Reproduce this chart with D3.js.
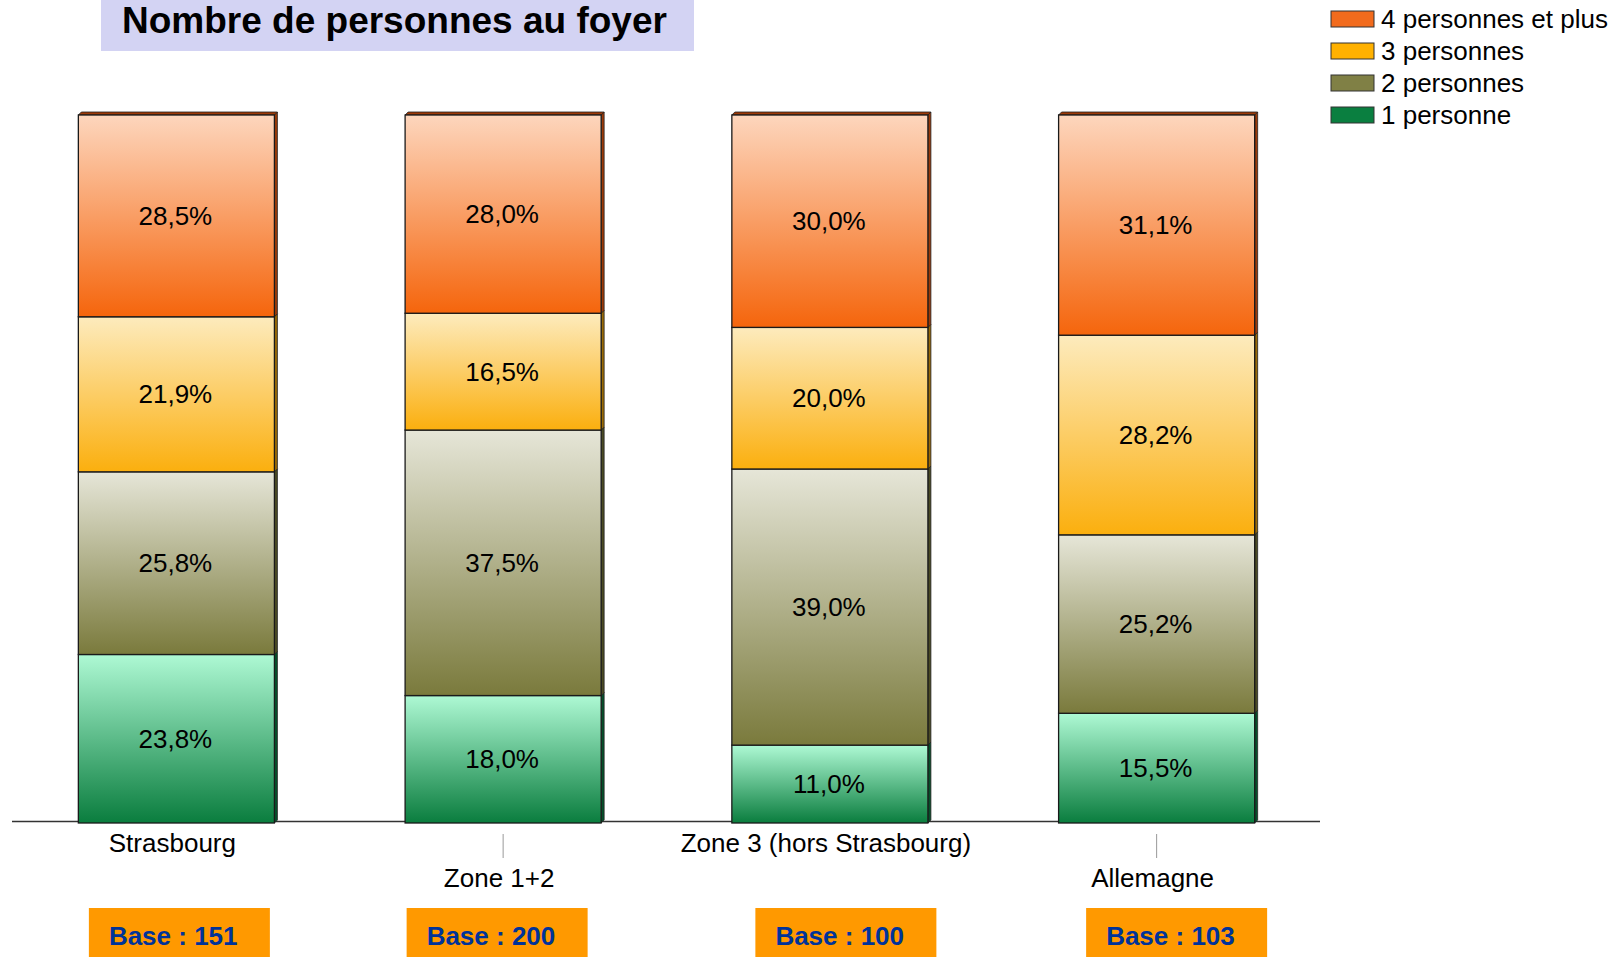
<!DOCTYPE html>
<html>
<head>
<meta charset="utf-8">
<script src="https://cdn.jsdelivr.net/npm/d3@7/dist/d3.min.js"></script>
<style>
  body { margin: 0; background: #fff; }
  svg text { font-family: "Liberation Sans", Arial, sans-serif; }
</style>
</head>
<body>
<div id="chart"></div>
<script>
const categories = ["Strasbourg", "Zone 1+2", "Zone 3 (hors Strasbourg)", "Allemagne"];
const seriesNames = ["1 personne", "2 personnes", "3 personnes", "4 personnes et plus"];
const onePerson = [23.8, 18.0, 11.0, 15.5];
const twoPersons = [25.8, 37.5, 39.0, 25.2];
const threePersons = [21.9, 16.5, 20.0, 28.2];
const fourPlus = [28.5, 28.0, 30.0, 31.1];
const bases = [151, 200, 100, 103];

let width = 1624;
let height = 957;

// colours per series: gradient top, gradient bottom, legend, side face
let palette = {
  "1 personne": { top: "#aef9d4", bottom: "#0a7d3e", solid: "#0a7f40", side: "#05502a" },
  "2 personnes": { top: "#e6e6d8", bottom: "#7a7a3c", solid: "#808045", side: "#4b4b24" },
  "3 personnes": { top: "#fdebbd", bottom: "#fbaf0e", solid: "#ffb100", side: "#9a6a05" },
  "4 personnes et plus": { top: "#fdd6bd", bottom: "#f5650c", solid: "#f26b1d", side: "#9c3a08" }
};

let table = categories.map((c, i) => ({
  category: c,
  "1 personne": onePerson[i],
  "2 personnes": twoPersons[i],
  "3 personnes": threePersons[i],
  "4 personnes et plus": fourPlus[i],
  base: bases[i]
}));

let stacked = d3.stack().keys(seriesNames)(table);

let svg = d3.select("#chart")
  .append("svg")
  .attr("width", width)
  .attr("height", height);

let defs = svg.append("defs");
seriesNames.forEach((s, i) => {
  let g = defs.append("linearGradient")
    .attr("id", "grad" + i)
    .attr("x1", 0).attr("y1", 0).attr("x2", 0).attr("y2", 1);
  g.append("stop").attr("offset", "0%").attr("stop-color", palette[s].top);
  g.append("stop").attr("offset", "100%").attr("stop-color", palette[s].bottom);
});

let x = d3.scaleBand()
  .domain(categories)
  .range([13, 1320])
  .paddingInner(0.4)
  .paddingOuter(0.2);

let y = d3.scaleLinear()
  .domain([0, 100])
  .range([823, 115]);

const depth = 3;

// Title
svg.append("rect")
  .attr("x", 101).attr("y", 0)
  .attr("width", 593).attr("height", 51)
  .attr("fill", "#d3d3f3");
svg.append("text")
  .attr("x", 122).attr("y", 33)
  .attr("font-size", 37)
  .attr("font-weight", "bold")
  .attr("fill", "#000")
  .text("Nombre de personnes au foyer");

// axis line
svg.append("line")
  .attr("x1", 12).attr("x2", 1320)
  .attr("y1", 821.5).attr("y2", 821.5)
  .attr("stroke", "#333").attr("stroke-width", 1.5);

// bars
let layer = svg.selectAll("g.layer")
  .data(stacked)
  .enter().append("g")
  .attr("class", "layer");

let seg = layer.selectAll("g.seg")
  .data(d => d.map(p => ({ key: d.key, idx: d.index, p: p })))
  .enter().append("g")
  .attr("class", "seg");

// side face
seg.append("polygon")
  .attr("points", d => {
    let x1 = x(d.p.data.category) + x.bandwidth();
    let yt = y(d.p[1]), yb = y(d.p[0]);
    return [[x1, yt], [x1 + depth, yt - depth], [x1 + depth, yb - depth], [x1, yb]].join(" ");
  })
  .attr("fill", d => palette[d.key].side)
  .attr("stroke", "#222")
  .attr("stroke-width", 0.8);

// top face for the top segment
seg.filter(d => d.idx === seriesNames.length - 1)
  .append("polygon")
  .attr("points", d => {
    let x0 = x(d.p.data.category), x1 = x0 + x.bandwidth();
    let yt = y(d.p[1]);
    return [[x0, yt], [x0 + depth, yt - depth], [x1 + depth, yt - depth], [x1, yt]].join(" ");
  })
  .attr("fill", d => palette[d.key].side)
  .attr("stroke", "#222")
  .attr("stroke-width", 0.8);

seg.append("rect")
  .attr("x", d => x(d.p.data.category))
  .attr("y", d => y(d.p[1]))
  .attr("width", x.bandwidth())
  .attr("height", d => y(d.p[0]) - y(d.p[1]))
  .attr("fill", d => "url(#grad" + d.idx + ")")
  .attr("stroke", "#1a1a1a")
  .attr("stroke-width", 1.3);

seg.append("text")
  .attr("x", d => x(d.p.data.category) + x.bandwidth() / 2 - 1)
  .attr("y", d => (y(d.p[0]) + y(d.p[1])) / 2 + 9)
  .attr("text-anchor", "middle")
  .attr("font-size", 26)
  .attr("fill", "#000")
  .text(d => (d.p[1] - d.p[0]).toFixed(1).replace(".", ",") + "%");

// category labels, staggered
let cat = svg.selectAll("g.cat")
  .data(categories)
  .enter().append("g")
  .attr("class", "cat");

cat.filter((d, i) => i % 2 === 1)
  .append("line")
  .attr("x1", d => x(d) + x.bandwidth() / 2)
  .attr("x2", d => x(d) + x.bandwidth() / 2)
  .attr("y1", 834).attr("y2", 858)
  .attr("stroke", "#999").attr("stroke-width", 1);

cat.append("text")
  .attr("x", d => x(d) + x.bandwidth() / 2 - 4)
  .attr("y", (d, i) => i % 2 === 0 ? 852 : 887)
  .attr("text-anchor", "middle")
  .attr("font-size", 26)
  .attr("fill", "#000")
  .text(d => d);

// base boxes
const baseShift = [3, -6, 16, 20];
let base = svg.selectAll("g.base")
  .data(table)
  .enter().append("g")
  .attr("class", "base")
  .attr("transform", (d, i) =>
    "translate(" + (x(d.category) + x.bandwidth() / 2 + baseShift[i] - 90.5) + ",908)");

base.append("rect")
  .attr("width", 181).attr("height", 60)
  .attr("fill", "#ff9900");
base.append("text")
  .attr("x", 20).attr("y", 37)
  .attr("font-size", 26)
  .attr("font-weight", "bold")
  .attr("fill", "#003399")
  .text(d => "Base : " + d.base);

// legend (top series first)
let legend = svg.selectAll("g.legend")
  .data(seriesNames.slice().reverse())
  .enter().append("g")
  .attr("class", "legend")
  .attr("transform", (d, i) => "translate(1331," + (19 + i * 32) + ")");

legend.append("rect")
  .attr("x", 0).attr("y", -8)
  .attr("width", 43).attr("height", 16)
  .attr("fill", d => palette[d].solid)
  .attr("stroke", "#333").attr("stroke-width", 1);

legend.append("text")
  .attr("x", 50).attr("y", 9)
  .attr("font-size", 26)
  .attr("fill", "#000")
  .text(d => d);
</script>
</body>
</html>
